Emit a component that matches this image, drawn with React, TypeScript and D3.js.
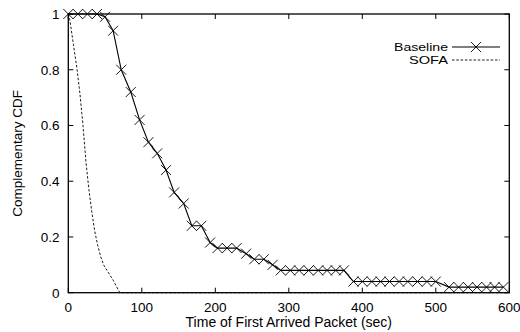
import React from "react";
import * as d3 from "d3";

const baselineTimes = [0, 13, 26, 39, 50, 61, 72, 85, 97, 109, 121, 133, 144, 157, 168, 181, 193, 203, 216, 229, 242, 253, 266, 278, 289, 302, 314, 327, 340, 352, 364, 375, 388, 400, 413, 425, 437, 450, 462, 475, 488, 500, 518, 531, 544, 556, 569, 580, 592];
const baselineValues = [1, 1, 1, 1, 0.99, 0.94, 0.8, 0.72, 0.62, 0.54, 0.5, 0.44, 0.36, 0.32, 0.24, 0.24, 0.18, 0.16, 0.16, 0.16, 0.14, 0.12, 0.12, 0.1, 0.08, 0.08, 0.08, 0.08, 0.08, 0.08, 0.08, 0.08, 0.04, 0.04, 0.04, 0.04, 0.04, 0.04, 0.04, 0.04, 0.04, 0.04, 0.02, 0.02, 0.02, 0.02, 0.02, 0.02, 0.02];

const sofaTimes = [0, 2, 7, 12, 16, 20, 24, 28, 32, 36, 40, 44, 48, 55, 61, 66, 70, 600];
const sofaValues = [1, 0.98, 0.89, 0.8, 0.71, 0.6, 0.47, 0.37, 0.29, 0.22, 0.17, 0.13, 0.1, 0.07, 0.045, 0.02, 0, 0];

const xTicks = [0, 100, 200, 300, 400, 500, 600];
const yTicks = [0, 0.2, 0.4, 0.6, 0.8, 1];
const yTickLabels = ["0", "0.2", "0.4", "0.6", "0.8", "1"];

const seriesNames = ["Baseline", "SOFA"];
const xLabel = "Time of First Arrived Packet (sec)";
const yLabel = "Complementary CDF";

const W = 520;
const H = 332;
const L = 68.3, R = 509.3, T = 14, B = 292.7;
const FONT = "'Liberation Sans', Arial, Helvetica, sans-serif";

export default function App() {
  const x = d3.scaleLinear().domain([0, 600]).range([L, R]);
  const y = d3.scaleLinear().domain([0, 1]).range([B, T]);

  const basePts: [number, number][] = baselineTimes.map((t, i) => [t, baselineValues[i]]);
  const sofaPts: [number, number][] = sofaTimes.map((t, i) => [t, sofaValues[i]]);
  const line = d3.line<[number, number]>().x(d => x(d[0])).y(d => y(d[1]));

  const ms = 5;
  const cross = (cx: number, cy: number, key: string | number) => (
    <path key={key} d={`M${cx - ms},${cy - ms}L${cx + ms},${cy + ms}M${cx - ms},${cy + ms}L${cx + ms},${cy - ms}`} stroke="#000" strokeWidth={0.9} fill="none" />
  );

  const tickLen = 5;
  const legX1 = 452, legX2 = 500, legTextX = 448;
  const legY = [47, 60];
  const legWidths = [54, 39];

  return (
    <svg width={W} height={H} style={{ position: "absolute", left: 0, top: 0, background: "#fff" }} fontFamily={FONT}>
      <rect x={0} y={0} width={W} height={H} fill="#fff" />
      {xTicks.map(t => (
        <g key={"xt" + t}>
          <line x1={x(t)} x2={x(t)} y1={B} y2={B - tickLen} stroke="#000" strokeWidth={1} />
          <line x1={x(t)} x2={x(t)} y1={T} y2={T + tickLen} stroke="#000" strokeWidth={1} />
          <text x={x(t)} y={311.5} textAnchor="middle" fontSize={13.5} fill="#000">{t}</text>
        </g>
      ))}
      {yTicks.map((t, i) => (
        <g key={"yt" + t}>
          <line x1={L} x2={L + tickLen} y1={y(t)} y2={y(t)} stroke="#000" strokeWidth={1} />
          <line x1={R} x2={R - tickLen} y1={y(t)} y2={y(t)} stroke="#000" strokeWidth={1} />
          <text x={59.5} y={y(t) + 5} textAnchor="end" fontSize={13.5} fill="#000">{yTickLabels[i]}</text>
        </g>
      ))}
      <path d={line(sofaPts) || ""} fill="none" stroke="#000" strokeWidth={0.9} strokeDasharray="2.5,1.8" />
      <path d={line(basePts) || ""} fill="none" stroke="#000" strokeWidth={1.1} />
      {basePts.map((p, i) => cross(x(p[0]), y(p[1]), i))}
      <rect x={L} y={T} width={R - L} height={B - T} fill="none" stroke="#000" strokeWidth={1.3} />
      {seriesNames.map((name, i) => (
        <text key={"lt" + i} x={legTextX - legWidths[i]} y={legY[i] + 4.3} fontSize={11.5} textLength={legWidths[i]} lengthAdjust="spacingAndGlyphs" fill="#000">{name}</text>
      ))}
      <line x1={legX1} x2={legX2} y1={legY[0]} y2={legY[0]} stroke="#000" strokeWidth={1.1} />
      {cross((legX1 + legX2) / 2, legY[0], "leg")}
      <line x1={legX1} x2={legX2} y1={legY[1]} y2={legY[1]} stroke="#000" strokeWidth={0.9} strokeDasharray="2.5,1.8" />
      <text x={(L + R) / 2} y={327} textAnchor="middle" fontSize={14} fill="#000">{xLabel}</text>
      <text transform={`translate(22,${(T + B) / 2}) rotate(-90)`} textAnchor="middle" fontSize={13.5} fill="#000">{yLabel}</text>
    </svg>
  );
}
